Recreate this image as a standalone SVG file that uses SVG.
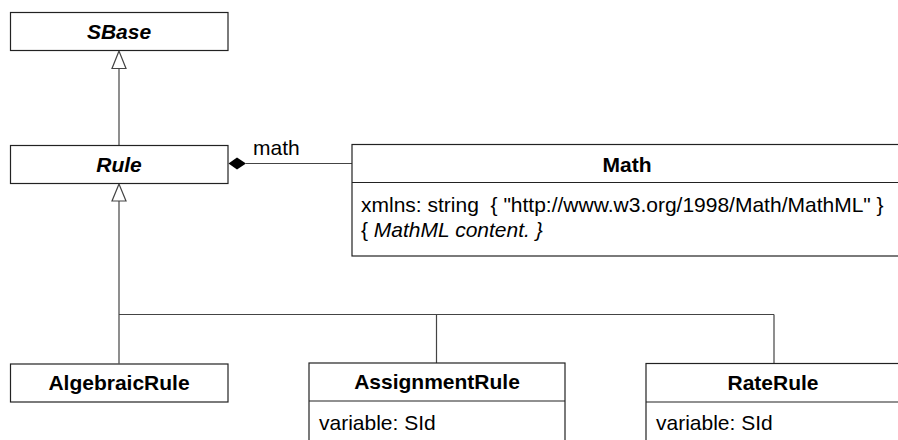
<svg xmlns="http://www.w3.org/2000/svg" width="898" height="440" viewBox="0 0 898 440">
<style>
.box{fill:#fff;stroke:#222;stroke-width:1.2}
.ln{fill:none;stroke:#444;stroke-width:1.2}
.t{font-family:"Liberation Sans",Arial,sans-serif;font-size:21px;fill:#000}
.b{font-weight:bold}
.i{font-style:italic}
.c{text-anchor:middle}
.tri{fill:#fff;stroke:#444;stroke-width:1.2}
</style>
<g id="connectors">
  <line class="ln" x1="119" y1="68" x2="119" y2="145.5"/>
  <polygon class="tri" points="119,51 112,68.5 126,68.5"/>
  <line class="ln" x1="119" y1="200" x2="119" y2="363.5"/>
  <polygon class="tri" points="119,184 112,201 126,201"/>
  <line class="ln" x1="119" y1="314.5" x2="774" y2="314.5"/>
  <line class="ln" x1="436.5" y1="314.5" x2="436.5" y2="363"/>
  <line class="ln" x1="774" y1="314.5" x2="774" y2="363.5"/>
  <line class="ln" x1="246" y1="163.5" x2="352" y2="163.5"/>
  <polygon points="228.5,163.5 237,157.5 246,163.5 237,169.5" fill="#000"/>
  <text class="t" x="253" y="155">math</text>
</g>
<g id="SBase">
  <rect class="box" x="10.5" y="12.5" width="217.5" height="38"/>
  <text class="t b i c" x="119" y="38.5">SBase</text>
</g>
<g id="Rule">
  <rect class="box" x="10.5" y="145.5" width="217.5" height="38"/>
  <text class="t b i c" x="119" y="171.5">Rule</text>
</g>
<g id="Math">
  <rect class="box" x="352" y="144.5" width="552" height="111.5"/>
  <line class="box" x1="352" y1="182.5" x2="904" y2="182.5"/>
  <text class="t b c" x="627" y="172">Math</text>
  <text class="t" x="361" y="211.5" xml:space="preserve">xmlns: string  { "http://www.w3.org/1998/Math/MathML" }</text>
  <text class="t" x="361" y="236.5">{ <tspan class="i">MathML content. }</tspan></text>
</g>
<g id="AlgebraicRule">
  <rect class="box" x="10.5" y="364" width="217.5" height="38"/>
  <text class="t b c" x="119" y="390">AlgebraicRule</text>
</g>
<g id="AssignmentRule">
  <rect class="box" x="309" y="363" width="256" height="90"/>
  <line class="box" x1="309" y1="401" x2="565" y2="401"/>
  <text class="t b c" x="437" y="389">AssignmentRule</text>
  <text class="t" x="319" y="430">variable: SId</text>
</g>
<g id="RateRule">
  <rect class="box" x="646" y="363.5" width="256" height="90"/>
  <line class="box" x1="646" y1="402" x2="902" y2="402"/>
  <text class="t b c" x="773" y="389.5">RateRule</text>
  <text class="t" x="656" y="430">variable: SId</text>
</g>
</svg>
